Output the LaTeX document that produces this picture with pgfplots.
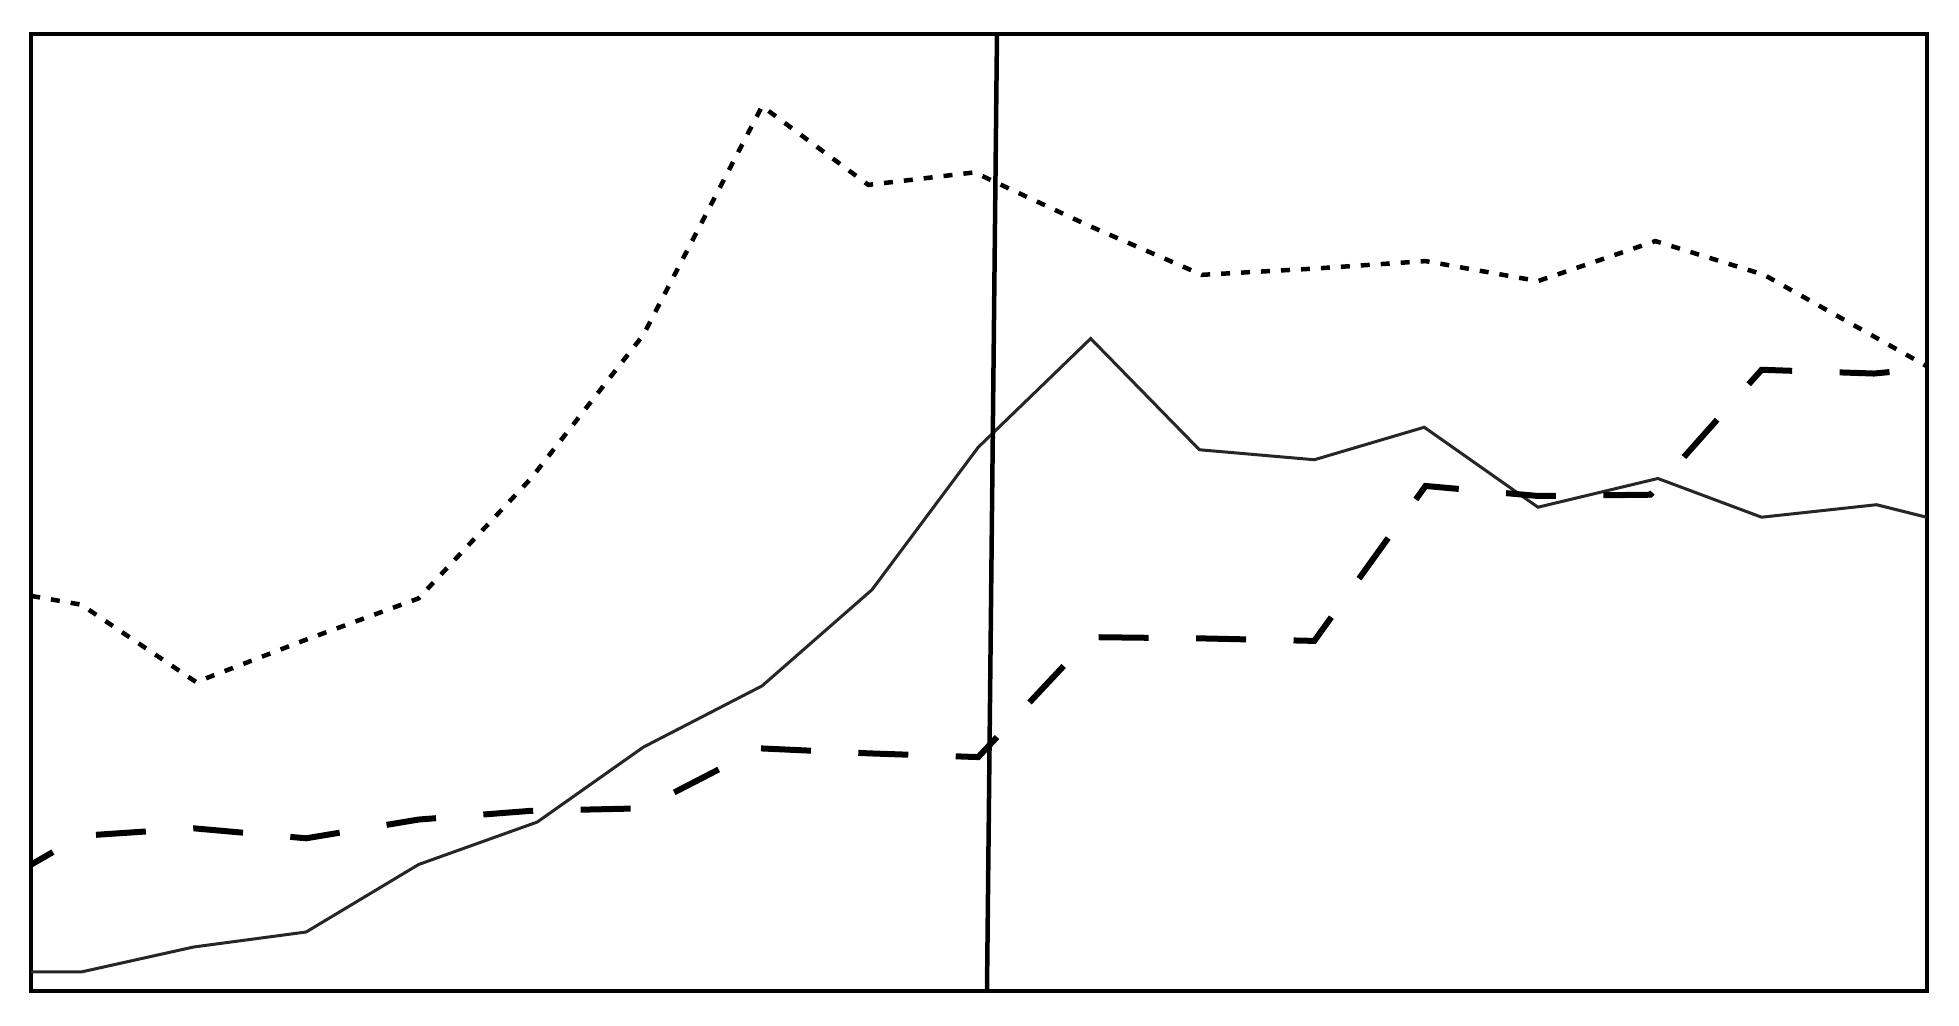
\documentclass[border=0pt]{standalone}
\usepackage{pgfplots}
\pgfplotsset{compat=1.18}
\begin{document}
\begin{tikzpicture}
\useasboundingbox (0,0) rectangle (392pt,205.25pt);
\begin{axis}[
  at={(6.25pt,7pt)}, anchor=south west,
  scale only axis, width=379.25pt, height=191.5pt,
  xmin=25, xmax=1542, ymin=0, ymax=766,
  xtick=\empty, ytick=\empty,
  axis line style={line width=0.8pt, black},
]
% dotted series
\addplot[black, line width=0.9pt, dash pattern=on 1.8pt off 2.2pt] coordinates {
 (25,316) (65,309) (157,247) (245,281) (335,314) (425,410) (515,525)
 (610,708) (695,645) (780,655) (870,613) (962,573) (1052,578) (1141,584)
 (1231,568) (1325,600) (1412,573) (1542,500)};
% solid series
\addplot[black!85, line width=0.6pt] coordinates {
 (25,15) (65,15) (155,35) (245,47) (335,101) (430,135) (515,195) (610,244)
 (698,321) (783,435) (873,522) (960,433) (1052,425) (1140,451) (1231,387)
 (1327,410) (1410,379) (1502,389) (1542,379)};
% dashed series
\addplot[black, line width=1.2pt, dash pattern=on 10pt off 9.5pt, dash phase=5pt] coordinates {
 (25,101) (65,124) (155,130) (245,122) (335,137) (425,144) (515,146)
 (608,194) (695,190) (783,187) (873,283) (962,282) (1052,280) (1141,404)
 (1231,396) (1321,397) (1410,497) (1500,494) (1542,498)};
% vertical marker
\addplot[black, line width=0.9pt] coordinates {(798,766) (790,0)};
\end{axis}
\end{tikzpicture}
\end{document}
